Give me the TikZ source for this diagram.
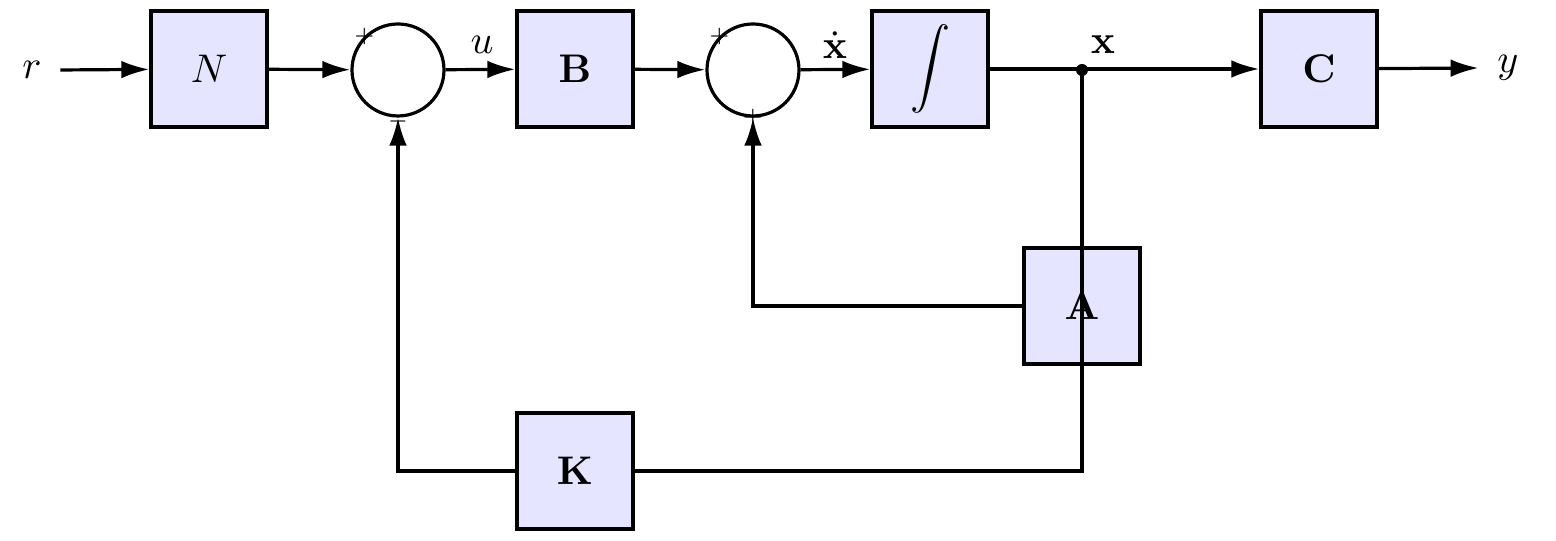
\documentclass[tikz,border=0pt]{standalone}
\usetikzlibrary{arrows.meta}
\begin{document}
\begin{tikzpicture}[x=0.25pt,y=-0.25pt,
  blk/.style={draw,line width=0.8pt,fill=blue!10,minimum size=29pt,inner sep=0pt},
  sumc/.style={draw,circle,line width=0.8pt,minimum size=23pt,inner sep=0pt},
  sgn/.style={font=\fontsize{5.5}{6}\selectfont,inner sep=0pt},
  lbl/.style={inner sep=0pt},
  conn/.style={line width=0.8pt},
  arr/.style={conn,-{Latex[length=7pt,width=4.4pt]}}]
\useasboundingbox (0,0) rectangle (1556,541);
\node[lbl] (r) at (32,70) {$r$};
\node[blk] (N) at (209,69) {$N$};
\node[sumc] (s1) at (398,70) {};
\node[blk] (B) at (575,69) {$\mathbf{B}$};
\node[sumc] (s2) at (753,70) {};
\node[blk] (I) at (930,69) {$\displaystyle\int$};
\node[blk] (C) at (1319,69) {$\mathbf{C}$};
\node[lbl] (y) at (1508,68) {$y$};
\node[blk] (A) at (1082,306) {$\mathbf{A}$};
\node[blk] (K) at (575,471) {$\mathbf{K}$};
\node[lbl] (lu) at (482,45) {$u$};
\node[lbl] (lxd) at (835,45) {$\dot{\mathbf{x}}$};
\node[lbl] (lx) at (1103,45) {$\mathbf{x}$};
\coordinate (j) at (1082,70);
\draw[arr] ([xshift=4.5pt]r.east) -- (N);
\draw[arr] (N) -- (s1);
\draw[arr] (s1) -- (B);
\draw[arr] (B) -- (s2);
\draw[arr] (s2) -- (I);
\draw[arr] (I) -- (C);
\draw[arr] (C) -- ([xshift=-4.5pt]y.west);
\draw[conn] (j) |- (K.east);
\draw[arr] (K.west) -| (s1.south);
\draw[arr] (A.west) -| (s2.south);
\fill (j) circle (1.5pt);
\node[sgn] (p1) at (s1.135) {$+$};
\node[sgn] (m1) at ([yshift=-0.9pt]s1.south) {$-$};
\node[sgn] (p2) at (s2.135) {$+$};
\node[sgn] (p3) at (s2.south) {$+$};
\end{tikzpicture}
\end{document}
